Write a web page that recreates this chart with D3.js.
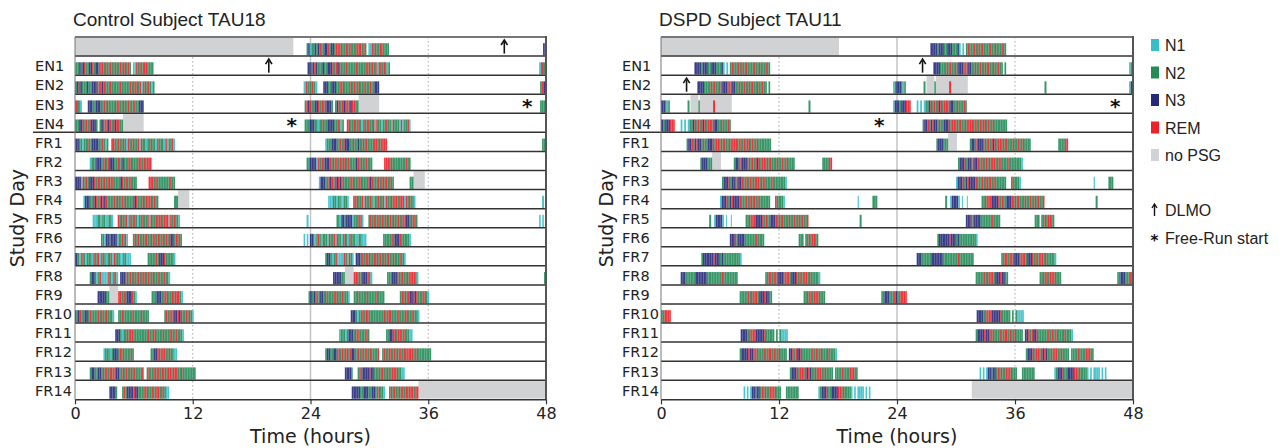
<!DOCTYPE html>
<html>
<head>
<meta charset="utf-8">
<script src="https://cdn.jsdelivr.net/npm/d3@7"></script>
<style>
  body { margin: 0; background: #fff; }
  svg { display: block; }
</style>
</head>
<body>
<div id="chart"></div>
<script>
// Double-plotted hypnograms: each row shows day r (0-24h) and day r+1 (24-48h).
// Episodes are [start, end, stages] in hours from the start of the top row,
// one character per epoch: 1 = N1, 2 = N2, 3 = N3, R = REM, . = wake
const rowLabels = ["", "EN1", "EN2", "EN3", "EN4", "FR1", "FR2", "FR3", "FR4", "FR5",
  "FR6", "FR7", "FR8", "FR9", "FR10", "FR11", "FR12", "FR13", "FR14"];
const hourTicks = [0, 12, 24, 36, 48];

const controlSleep = [
  [23.6, 29.7, "23122323R2233R2332RR2R22R22R22R2RR2R2"],
  [29.9, 32.0, "11R2R22RR2222"],
  [47.7, 56.1, "3323R3222322333R2R3R222R22222R22222R2R2R2R12R2R212"],
  [71.3, 72.7, "1R22R21"],
  [73.3, 79.0, "3332233322R2R2222R2R22R22R222R22333"],
  [95.4, 98.3, "2R3R2233R2R2R3332"],
  [98.5, 100.9, "23R2R3R2R3RR22"],
  [119.4, 123.4, "22233322122R22333322R212"],
  [123.7, 130.2, "RR22R22R21R22R22R1R22122R221R2221R122R1"],
  [145.5, 151.8, "122233322R2R33322R22322R2R2222RR2R2RRR"],
  [167.6, 174.3, "2233331R2R2333R2R2R2R2RR2R22223R2R22R222"],
  [175.5, 178.2, "RRR2R22222222R22"],
  [192.85, 200.5, "133322R3R2R3R3R2222R2R22R2R2222R3R222R2RR2R2R22"],
  [202.1, 202.5, "22"],
  [217.8, 219.9, "1112212211221"],
  [220.35, 226.7, "R2R22R1R22R2122R22R1R22R2RR2RRR1R2R221"],
  [239.6, 239.8, "1"],
  [242.65, 245.4, "2213323333122R2R1"],
  [245.9, 250.9, "2R2R22R2R22R2R2R22R2R2R332R2R2"],
  [263.3, 269.7, "1.1.33212R212221R22R1R2212R21R2221122111"],
  [271.4, 274.4, "22222R2333R222221."],
  [289.5, 292.4, "233212R1111R21R21"],
  [292.6, 297.7, "3332R2R2R22R2R2R2R22R22R222R221"],
  [314.3, 315.5, "3333322"],
  [316.4, 318.3, "RR2R2333R21"],
  [319.8, 323.0, "2223332R2R22R2RRR21"],
  [335.8, 340.0, "2323R22332R2222R2R22R2221"],
  [340.4, 343.7, "22R22222R22222R2222."],
  [345.1, 348.1, "2R2R2R33R3R22R2R21"],
  [364.1, 371.1, "3332122R2RR222222222R22RR2222R222RR22R2221"],
  [386.9, 390.0, "1222123332R2R2222R2"],
  [391.7, 394.4, "2233RR2RR22R2211"],
  [409.5, 415.0, "23322332R2R2RR2R3322R2R22R2R2222R"],
  [415.3, 420.3, "2R22RR2R2R2R2RR2RRR22R22222222"],
  [435.5, 436.3, "33332"],
  [436.8, 441.6, "2R23333R33222R2R22R22RR2R2211"],
  [460.2, 463.6, "3333322333223322R221"],
  [464.0, 467.0, "2R2R22R2R2R2RRR2RR"]
];
const controlNoPsg = [[0, 22.25], [100.9, 103.0], [202.5, 203.65], [315.5, 316.4], [467.0, 480]];
const controlDlmo = [43.75];
const controlFreeRun = [118.1];

const dspdSleep = [
  [27.4, 30.3, "33332333223332223"],
  [30.3, 31.0, "1.1."],
  [31.0, 35.1, "2R222R2R22R2222R22R222R22"],
  [51.7, 59.1, "33332222R2R22R2333R2R3322R22R22R2R22R22R22.2"],
  [71.6, 72.9, "12333212"],
  [74.7, 74.9, "2"],
  [75.8, 75.95, "2"],
  [77.3, 77.5, "R"],
  [87.0, 87.2, "2"],
  [95.6, 97.4, "13332333RRR"],
  [98.0, 98.9, "1.1.1"],
  [98.9, 103.1, "223R2R2R3R2RR2R3322R222R2"],
  [122.6, 131.2, "233R23R332R22333R2RR2R2R22R2RRR22R2R2RR2R22R22222222"],
  [148.0, 149.2, "2333222"],
  [151.4, 157.6, "2332R3332R2R2R3R2RR2R2R222R22R22R2222"],
  [160.4, 161.4, "2222RR"],
  [174.2, 180.8, "2333R2332R33R22R2R2R2RR2R2R2222R22222221"],
  [198.0, 203.1, "1333R23R3333R222R2RR2R2R2222222"],
  [203.6, 204.6, "R22221"],
  [212.0, 212.12, "1"],
  [213.5, 214.0, "222"],
  [220.9, 221.1, "2"],
  [221.4, 222.4, "133331"],
  [222.6, 222.7, "1"],
  [223.1, 223.2, "1"],
  [224.6, 231.0, "22R2RR3333R2R22333R2R2R222R22R22R2R22R"],
  [236.2, 236.4, "2"],
  [247.0, 250.5, "333R233332222222R2222"],
  [254.0, 256.0, "222.22R2RR22"],
  [268.1, 272.2, "2333333R3332322222222221"],
  [290.0, 295.8, "3332222223333333222222222R222222222"],
  [298.6, 304.2, "22RR2R2R333R2RR2333R2R22RR2R222221"],
  [320.0, 323.3, "22222R2R2RR2333R3322"],
  [326.5, 328.7, "22R2R2RR2R222"],
  [334.4, 337.0, "22333222R322RRRR"],
  [368.1, 372.9, "33332R2RR33333R22222.2.21111"],
  [392.0, 396.8, "23333R33R2R222R22RR2R22R2222"],
  [397.0, 401.9, "33R2R33R222222R2R22R222R22221"],
  [421.1, 425.5, "2333R2RR2R3R322R2RR22R2222"],
  [425.7, 428.0, "2222R2222RRR22"],
  [440.4, 444.2, "1.1.1332332R2R22RR2R222"],
  [444.7, 446.0, "22222222"],
  [448.0, 453.3, "12333R223333RR2R22221.1.1111.1.1"]
];
const dspdNoPsg = [[0, 18.1], [75.0, 75.8], [75.95, 79.2], [149.2, 150.1], [463.6, 480]];
const dspdDlmo = [50.6];
const dspdFreeRun = [118.2];

const legendStages = [["N1", "1"], ["N2", "2"], ["N3", "3"], ["REM", "R"]];
const stageColor = {"1": "#38bec8", "2": "#248b57", "3": "#26287a", "R": "#ec2027"};
const noPsgColor = "#d1d2d4";

const width = 1286, height = 448;
const plotTop = 37, rowH = 19.07;
const nRows = rowLabels.length;
const plotBottom = plotTop + nRows * rowH;

const svg = d3.select("#chart").append("svg")
  .attr("width", width).attr("height", height);

// soft horizontal blur so the epoch stripes blend like the original
svg.append("defs").append("filter")
  .attr("id", "soft")
  .attr("x", "-2%").attr("y", "0%").attr("width", "104%").attr("height", "100%")
  .append("feGaussianBlur")
  .attr("stdDeviation", "0.55 0");

const panels = [
  {title: "Control Subject TAU18", x0: 75, x1: 546, labelX: 35, yTitleX: 24,
   sleep: controlSleep, noPsg: controlNoPsg, dlmo: controlDlmo, freeRun: controlFreeRun},
  {title: "DSPD Subject TAU11", x0: 661, x1: 1133, labelX: 622, yTitleX: 613,
   sleep: dspdSleep, noPsg: dspdNoPsg, dlmo: dspdDlmo, freeRun: dspdFreeRun}
];

// split episodes into epochs
function epochs(list) {
  const out = [];
  list.forEach(([t0, t1, s]) => {
    const dt = (t1 - t0) / s.length;
    for (let i = 0; i < s.length; i++) {
      if (s[i] === ".") continue;
      out.push({t0: t0 + i * dt, t1: t0 + (i + 1) * dt, stage: s[i]});
    }
  });
  return out;
}

panels.forEach(p => {
  const x = d3.scaleLinear().domain([0, 48]).range([p.x0, p.x1]);
  const y = d3.scaleLinear().domain([0, nRows]).range([plotTop, plotBottom]);
  const g = svg.append("g");
  const eps = epochs(p.sleep);

  // grid lines
  g.append("line")
    .attr("x1", x(24)).attr("x2", x(24)).attr("y1", plotTop).attr("y2", plotBottom)
    .attr("stroke", "#c4c4c4").attr("stroke-width", 1.5);
  [12, 36].forEach(h => {
    g.append("line")
      .attr("x1", x(h)).attr("x2", x(h)).attr("y1", plotTop).attr("y2", plotBottom)
      .attr("stroke", "#aaa").attr("stroke-width", 1)
      .attr("stroke-dasharray", "1.5,2.5");
  });

  const gGray = g.append("g");
  const gStripes = g.append("g").attr("filter", "url(#soft)");
  const gMarks = g.append("g");

  rowLabels.forEach((label, r) => {
    const w0 = 24 * r, w1 = w0 + 48;
    const rowTop = y(r);

    // no PSG blocks
    gGray.selectAll(null)
      .data(p.noPsg.filter(d => d[1] > w0 && d[0] < w1))
      .join("rect")
      .attr("x", d => x(Math.max(d[0], w0) - w0))
      .attr("width", d => x(Math.min(d[1], w1) - w0) - x(Math.max(d[0], w0) - w0))
      .attr("y", rowTop + 0.8)
      .attr("height", rowH - 1.6)
      .attr("fill", noPsgColor);

    // sleep stage epochs
    gStripes.selectAll(null)
      .data(eps.filter(d => d.t1 > w0 && d.t0 < w1))
      .join("rect")
      .attr("x", d => x(Math.max(d.t0, w0) - w0))
      .attr("width", d => Math.max(0.6, x(Math.min(d.t1, w1) - w0) - x(Math.max(d.t0, w0) - w0)))
      .attr("y", rowTop + 6.2)
      .attr("height", rowH - 6.8)
      .attr("fill", d => stageColor[d.stage])
      .attr("fill-opacity", 0.9);

    // DLMO arrows
    p.dlmo.filter(t => t > w0 + 0.5 && t < w1 - 0.5).forEach(t => {
      const ax = x(t - w0);
      gMarks.append("line")
        .attr("x1", ax).attr("x2", ax)
        .attr("y1", rowTop + 5).attr("y2", rowTop + rowH - 2.5)
        .attr("stroke", "#111").attr("stroke-width", 1.6);
      gMarks.append("path")
        .attr("d", `M${ax - 3.2},${rowTop + 8} L${ax},${rowTop + 3} L${ax + 3.2},${rowTop + 8}`)
        .attr("fill", "none").attr("stroke", "#111").attr("stroke-width", 1.6);
    });

    // free-run start
    p.freeRun.filter(t => t > w0 + 0.5 && t < w1 - 0.5).forEach(t => {
      gMarks.append("text")
        .attr("x", x(t - w0)).attr("y", rowTop + rowH / 2 + 9)
        .attr("text-anchor", "middle")
        .attr("font-family", "DejaVu Sans")
        .attr("font-weight", "bold")
        .attr("font-size", 20)
        .attr("fill", "#111")
        .text("*");
    });

    // row separator
    if (r > 0) {
      gMarks.append("line")
        .attr("x1", r === 5 ? p.labelX - 2 : p.x0).attr("x2", p.x1)
        .attr("y1", rowTop).attr("y2", rowTop)
        .attr("stroke", "#333").attr("stroke-width", 1.5);
    }

    gMarks.append("text")
      .attr("x", p.labelX).attr("y", rowTop + rowH / 2 + 5.8)
      .attr("font-family", "DejaVu Sans")
      .attr("font-size", 14.5)
      .attr("fill", "#222")
      .text(label);
  });

  // frame
  g.append("line")
    .attr("x1", p.x0).attr("x2", p.x1).attr("y1", plotTop).attr("y2", plotTop)
    .attr("stroke", "#777").attr("stroke-width", 2);
  g.append("line")
    .attr("x1", p.x0).attr("x2", p.x0).attr("y1", plotTop).attr("y2", plotBottom)
    .attr("stroke", "#777").attr("stroke-width", 1);
  g.append("line")
    .attr("x1", p.x1).attr("x2", p.x1).attr("y1", plotTop - 1).attr("y2", plotBottom)
    .attr("stroke", "#555").attr("stroke-width", 2);

  // x axis
  const ax = g.append("g")
    .attr("transform", `translate(0, ${plotBottom})`)
    .call(d3.axisBottom(x).tickValues(hourTicks).tickSize(5).tickSizeOuter(0).tickPadding(3));
  ax.select(".domain").attr("stroke", "#333").attr("stroke-width", 1.5);
  ax.selectAll(".tick line").attr("stroke", "#333").attr("stroke-width", 1.2);
  ax.selectAll("text")
    .attr("font-family", "DejaVu Sans").attr("font-size", 16).attr("fill", "#222");

  g.append("text")
    .attr("x", x(24)).attr("y", 443)
    .attr("text-anchor", "middle")
    .attr("font-family", "DejaVu Sans").attr("font-size", 19).attr("fill", "#222")
    .text("Time (hours)");

  g.append("text")
    .attr("transform", `translate(${p.yTitleX}, ${(plotTop + plotBottom) / 2}) rotate(-90)`)
    .attr("text-anchor", "middle")
    .attr("font-family", "DejaVu Sans").attr("font-size", 19).attr("fill", "#222")
    .text("Study Day");

  g.append("text")
    .attr("x", p.x0 - 2).attr("y", 26)
    .attr("font-family", "Liberation Sans, Arial, sans-serif")
    .attr("font-size", 19).attr("fill", "#222")
    .text(p.title);
});

// legend
const legend = svg.append("g").attr("transform", "translate(1151, 0)");
const legendY = d3.scalePoint()
  .domain(legendStages.map(d => d[0]).concat(["no PSG"]))
  .range([45, 155]);

legendStages.concat([["no PSG", null]]).forEach(([name, key]) => {
  legend.append("rect")
    .attr("x", 0).attr("y", legendY(name) - 6)
    .attr("width", 8).attr("height", 12)
    .attr("fill", key ? stageColor[key] : noPsgColor);
  legend.append("text")
    .attr("x", 14).attr("y", legendY(name) + 6)
    .attr("font-family", "Liberation Sans, Arial, sans-serif")
    .attr("font-size", 16).attr("fill", "#222")
    .text(name);
});

legend.append("line")
  .attr("x1", 3.5).attr("x2", 3.5).attr("y1", 205).attr("y2", 216)
  .attr("stroke", "#111").attr("stroke-width", 1.4);
legend.append("path")
  .attr("d", "M1,208 L3.5,204 L6,208")
  .attr("fill", "none").attr("stroke", "#111").attr("stroke-width", 1.4);
legend.append("text")
  .attr("x", 14).attr("y", 216)
  .attr("font-family", "Liberation Sans, Arial, sans-serif")
  .attr("font-size", 16).attr("fill", "#222")
  .text("DLMO");
legend.append("text")
  .attr("x", 3.5).attr("y", 246)
  .attr("text-anchor", "middle")
  .attr("font-family", "DejaVu Sans").attr("font-weight", "bold")
  .attr("font-size", 15).attr("fill", "#111")
  .text("*");
legend.append("text")
  .attr("x", 14).attr("y", 244)
  .attr("font-family", "Liberation Sans, Arial, sans-serif")
  .attr("font-size", 16).attr("fill", "#222")
  .text("Free-Run start");
</script>
</body>
</html>
